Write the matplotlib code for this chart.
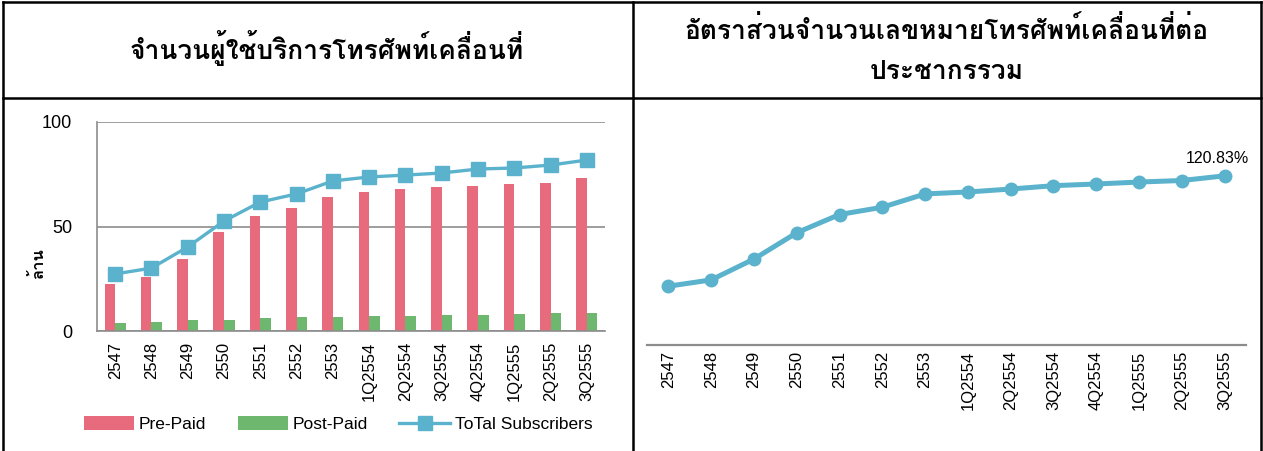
import matplotlib
matplotlib.use("Agg")
import matplotlib.pyplot as plt
from matplotlib.lines import Line2D

# ── data ──────────────────────────────────────────────────────────────
periods = ['2547', '2548', '2549', '2550', '2551', '2552', '2553',
           '1Q2554', '2Q2554', '3Q2554', '4Q2554', '1Q2555', '2Q2555', '3Q2555']
prepaid = [22.5, 25.8, 34.4, 47.4, 55.0, 58.9, 64.1,
           66.5, 67.9, 68.9, 69.4, 70.3, 70.8, 73.2]
postpaid = [3.8, 4.3, 5.1, 5.3, 6.2, 6.7, 6.9,
            7.2, 7.2, 7.5, 7.7, 8.1, 8.4, 8.4]
total = [27.3, 30.1, 40.2, 52.6, 61.7, 65.6, 71.8,
         73.7, 74.6, 75.6, 77.5, 78.0, 79.4, 81.8]
penetration = [42.0, 46.5, 61.4, 80.2, 93.2, 98.4, 107.9,
               109.3, 111.4, 113.8, 115.0, 116.4, 117.5, 120.83]

RED = '#E86A7D'
GREEN = '#6DB86E'
BLUE = '#5BB2CC'
GRID = '#8C8C8C'

THAI = ['Loma', 'Noto Sans Thai Looped', 'DejaVu Sans']
plt.rcParams['font.family'] = ['Liberation Sans', 'DejaVu Sans']

W, H = 1263, 451
fig = plt.figure(figsize=(W / 100, H / 100), dpi=100)


def rect(l, t, r, b):
    return [l / W, 1 - b / H, (r - l) / W, (b - t) / H]


# ── left chart: subscribers ───────────────────────────────────────────
ax = fig.add_axes(rect(97, 122, 605, 331))
x = list(range(len(periods)))
bw = 0.29
ax.bar([i - bw / 2 for i in x], prepaid, bw, color=RED, label='Pre-Paid', zorder=2)
ax.bar([i + bw / 2 for i in x], postpaid, bw, color=GREEN, label='Post-Paid', zorder=2)
ax.plot(x, total, color=BLUE, lw=2.4, marker='s', ms=10, mec=BLUE, mfc=BLUE,
        label='ToTal Subscribers', zorder=3)
ax.set_xlim(-0.5, 13.5)
ax.set_ylim(0, 100)
ax.set_yticks([0, 50, 100])
ax.yaxis.grid(True, color=GRID, lw=1.2, zorder=0)
ax.set_axisbelow(True)
for s in ('top', 'right'):
    ax.spines[s].set_visible(False)
ax.spines['left'].set_color(GRID)
ax.spines['bottom'].set_color(GRID)
ax.spines['left'].set_linewidth(1.2)
ax.spines['bottom'].set_linewidth(1.2)
ax.set_xticks(x)
ax.set_xticklabels(periods, rotation=90, fontsize=12)
ax.tick_params(axis='x', length=0, pad=8)
ax.tick_params(axis='y', length=0, pad=18, labelsize=13)
ax.set_ylabel('ล้าน', family=THAI, fontsize=12, fontweight='bold')
ax.yaxis.set_label_coords(-0.1, 0.325)
h, l = ax.get_legend_handles_labels()
order = [l.index('Pre-Paid'), l.index('Post-Paid'), l.index('ToTal Subscribers')]
ax.legend([h[i] for i in order], [l[i] for i in order],
          loc='center', bbox_to_anchor=(338 / W, 1 - 424 / H),
          bbox_transform=fig.transFigure, ncol=3, frameon=False, fontsize=12.5,
          handlelength=2.9, handleheight=0.9, handletextpad=0.28,
          columnspacing=1.8)

# ── right chart: penetration ─────────────────────────────────────────
ax2 = fig.add_axes(rect(647, 149, 1246, 345))
ax2.plot(x, penetration, color=BLUE, lw=3.6, marker='o', ms=9, zorder=3)
ax2.set_xlim(-0.5, 13.5)
ax2.set_ylim(0, 140)
ax2.set_yticks([])
for s in ('top', 'right', 'left'):
    ax2.spines[s].set_visible(False)
ax2.spines['bottom'].set_color(GRID)
ax2.spines['bottom'].set_linewidth(1.6)
ax2.set_xticks(x)
ax2.set_xticklabels(periods, rotation=90, fontsize=12)
ax2.tick_params(axis='x', length=0, pad=4)
ax2.annotate(f'{penetration[-1]:.2f}%', (x[-1], penetration[-1]),
             xytext=(-5, 7), textcoords='offset points',
             ha='center', va='bottom', fontsize=11.5)

# ── table frame & headers ─────────────────────────────────────────────
def fline(x0, y0, x1, y1):
    fig.add_artist(Line2D([x0 / W, x1 / W], [1 - y0 / H, 1 - y1 / H],
                          color='black', lw=1.8, transform=fig.transFigure))


fline(3, 2, 1261, 2)
fline(3, 2, 3, 451)
fline(1261, 2, 1261, 451)
fline(633, 2, 633, 451)
fline(3, 98, 1261, 98)

fig.text(327 / W, 1 - 48 / H, 'จำนวนผู้ใช้บริการโทรศัพท์เคลื่อนที่', family=THAI,
         fontsize=19, fontweight='bold', ha='center', va='center')
fig.text(947 / W, 1 - 30 / H, 'อัตราส่วนจำนวนเลขหมายโทรศัพท์เคลื่อนที่ต่อ', family=THAI,
         fontsize=19, fontweight='bold', ha='center', va='center')
fig.text(947 / W, 1 - 72 / H, 'ประชากรรวม', family=THAI,
         fontsize=19, fontweight='bold', ha='center', va='center')

fig.savefig('out.png', dpi=100)
